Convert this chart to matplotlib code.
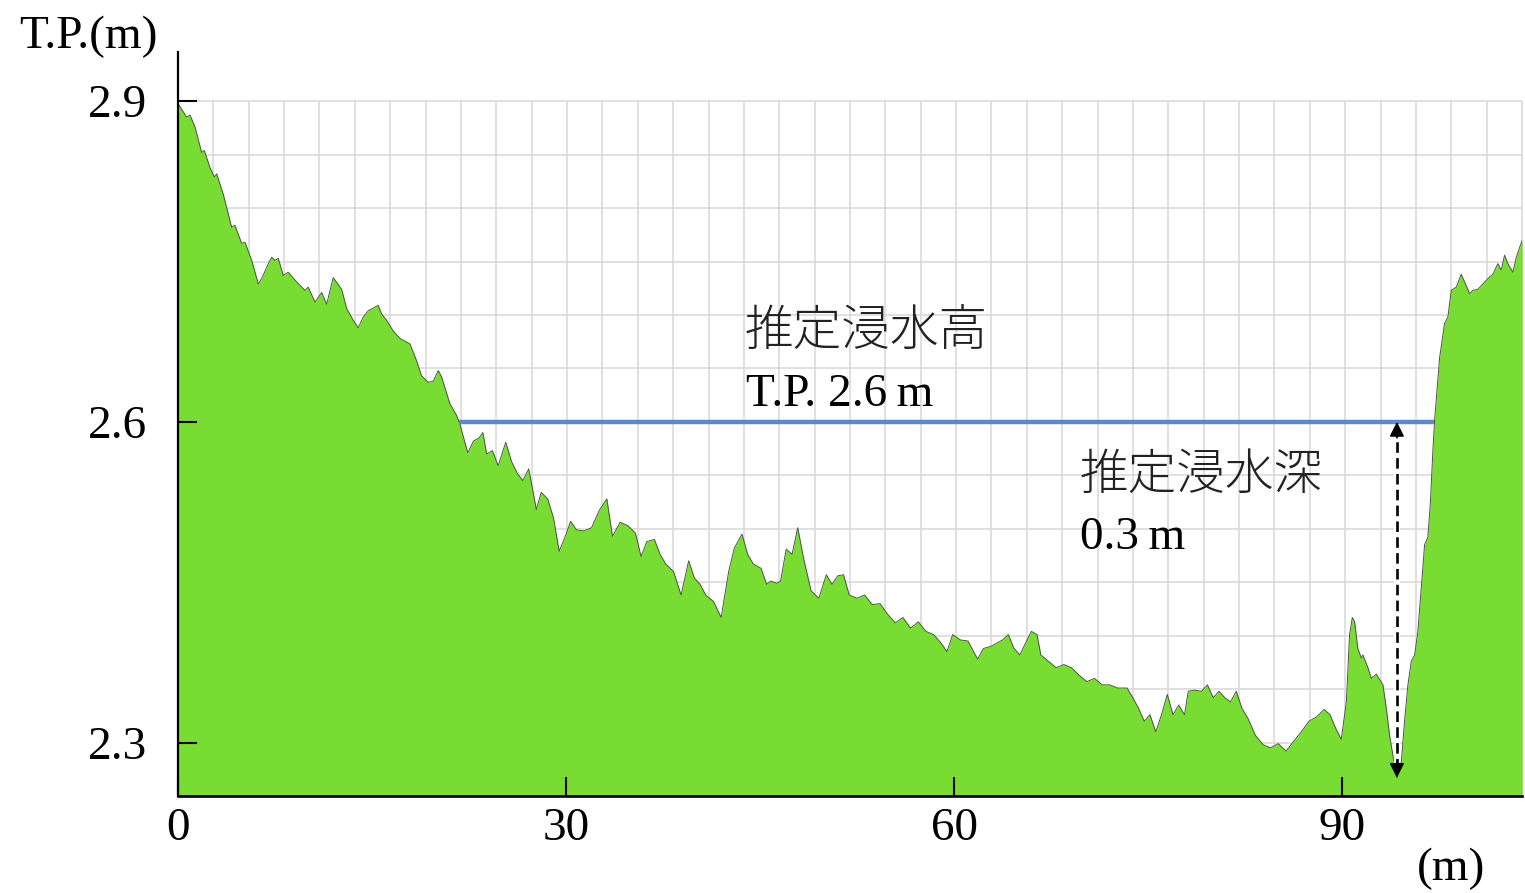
import matplotlib
matplotlib.use("Agg")
import matplotlib.pyplot as plt
import numpy as np

# Ground profile along the survey line: distance (m) and elevation (T.P. m)
distance = [
    0.00, 0.67, 0.93, 1.31, 1.83, 2.03, 2.47, 2.81, 2.99, 3.50, 4.15, 4.40, 4.92, 5.18,
    5.70, 6.21, 6.47, 6.98, 7.24, 7.50, 7.75, 8.14, 8.52, 9.17, 9.81, 10.07, 10.59, 11.11,
    11.49, 12.00, 12.65, 13.04, 13.55, 13.93, 14.32, 14.71, 15.48, 15.74, 16.13, 16.64,
    17.16, 17.93, 18.45, 18.83, 19.34, 19.73, 20.12, 20.38, 21.02, 21.54, 21.79,
    22.40, 22.84, 23.28, 23.57, 23.86, 24.31, 24.75, 25.34, 25.78, 26.22, 26.66, 27.11,
    27.40, 27.70, 28.08, 28.58, 29.03, 29.47, 29.91, 30.35, 30.80, 31.38, 31.97, 32.56,
    33.15, 33.59, 34.18, 34.77, 35.36, 35.80, 36.24, 36.83, 37.27, 37.71, 38.31, 38.89,
    39.48, 39.92, 40.36, 40.80, 41.40, 41.99, 42.57, 43.01, 43.60, 44.04, 44.48, 45.07,
    45.51, 45.83, 46.28, 46.58, 47.02, 47.47, 47.91, 48.35, 48.94, 49.54, 50.12, 50.56,
    51.01, 51.45, 51.89, 52.49, 53.08, 53.67, 54.27, 54.86, 55.45, 56.04, 56.64, 57.23,
    57.82, 58.41, 59.00, 59.44, 59.89, 60.48, 61.07, 61.82, 62.26, 62.85, 63.74, 64.19,
    64.63, 65.08, 65.52, 65.97, 66.41, 66.70, 67.30, 67.89, 68.48, 69.07, 69.66, 70.26,
    70.85, 71.44, 72.03, 72.63, 73.37, 73.81, 74.26, 74.70, 75.14, 75.59, 76.03, 76.48,
    76.92, 77.36, 77.81, 78.10, 78.55, 79.13, 79.58, 80.03, 80.47, 80.92, 81.36, 81.81,
    82.25, 82.70, 83.28, 83.88, 84.47, 85.06, 85.66, 86.24, 86.84, 87.43, 88.02, 88.61,
    89.06, 89.51, 89.93, 90.32, 90.57, 90.78, 90.96, 91.21, 91.48, 91.60, 91.99, 92.25,
    92.64, 92.89, 93.15, 93.41, 93.66, 93.92, 94.23, 94.57, 94.82, 95.08, 95.34, 95.60,
    95.85, 96.11, 96.37, 96.62, 96.81, 97.01, 97.14, 97.53, 97.91, 98.17, 98.43, 98.82,
    99.20, 99.46, 99.85, 100.10, 100.49, 100.87, 101.26, 101.65, 102.03, 102.30, 102.55,
    102.81, 103.19, 103.46, 103.71, 103.92,
]
elevation = [
    2.898, 2.885, 2.887, 2.876, 2.852, 2.854, 2.838, 2.829, 2.832, 2.813, 2.782, 2.784, 2.767, 2.768,
    2.751, 2.729, 2.734, 2.748, 2.754, 2.751, 2.753, 2.737, 2.740, 2.731, 2.723, 2.726, 2.712, 2.721,
    2.710, 2.735, 2.724, 2.706, 2.695, 2.688, 2.698, 2.704, 2.709, 2.701, 2.695, 2.685,
    2.678, 2.673, 2.657, 2.643, 2.637, 2.638, 2.648, 2.642, 2.617, 2.606, 2.598,
    2.571, 2.582, 2.585, 2.590, 2.570, 2.573, 2.559, 2.581, 2.563, 2.552, 2.545, 2.556,
    2.538, 2.518, 2.534, 2.528, 2.510, 2.479, 2.492, 2.507, 2.499, 2.498, 2.501, 2.517,
    2.528, 2.493, 2.506, 2.503, 2.496, 2.474, 2.488, 2.490, 2.476, 2.467, 2.460, 2.438,
    2.470, 2.454, 2.448, 2.438, 2.432, 2.417, 2.460, 2.482, 2.495, 2.476, 2.467, 2.463,
    2.448, 2.451, 2.449, 2.451, 2.481, 2.476, 2.501, 2.473, 2.442, 2.435, 2.457, 2.448,
    2.456, 2.457, 2.438, 2.435, 2.438, 2.429, 2.430, 2.420, 2.412, 2.417, 2.407, 2.413,
    2.404, 2.401, 2.393, 2.385, 2.401, 2.396, 2.395, 2.378, 2.388, 2.390, 2.396, 2.401,
    2.388, 2.382, 2.393, 2.404, 2.401, 2.382, 2.376, 2.370, 2.373, 2.370, 2.363, 2.357,
    2.360, 2.354, 2.354, 2.351, 2.351, 2.342, 2.332, 2.320, 2.326, 2.310, 2.326, 2.345,
    2.326, 2.335, 2.326, 2.348, 2.349, 2.348, 2.354, 2.342, 2.348, 2.342, 2.338, 2.348,
    2.332, 2.323, 2.307, 2.298, 2.295, 2.299, 2.292, 2.301, 2.310, 2.320, 2.324, 2.331,
    2.326, 2.313, 2.303, 2.338, 2.401, 2.417, 2.413, 2.388, 2.379, 2.382, 2.370, 2.360,
    2.364, 2.359, 2.354, 2.332, 2.307, 2.288, 2.267, 2.282, 2.320, 2.354, 2.376, 2.382,
    2.404, 2.445, 2.485, 2.492, 2.523, 2.573, 2.601, 2.660, 2.692, 2.698, 2.723, 2.726,
    2.738, 2.731, 2.720, 2.723, 2.724, 2.729, 2.734, 2.738, 2.748, 2.742, 2.756,
    2.748, 2.740, 2.754, 2.763, 2.770,
]

WATER_LEVEL = 2.6            # estimated inundation height, T.P. (m)
x_ticks = [0, 30, 60, 90]
y_ticks = [2.3, 2.6, 2.9]
height_title = "推定浸水高"
depth_title = "推定浸水深"

X_MIN, X_MAX = 0.0, 103.9
Y_MIN, Y_MAX = 2.25, 2.946
GRID_TOP = 2.9

GROUND_COLOR = "#78DC32"
WATER_COLOR = "#5A8ACB"
GRID_COLOR = "#DADADA"

dist = np.asarray(distance)
elev = np.asarray(elevation)

fig = plt.figure(figsize=(15.25, 8.93), dpi=100)
ax = fig.add_axes([178 / 1525, 1 - 796 / 893, (1522 - 178) / 1525, (796 - 52) / 893])
ax.set_xlim(X_MIN, X_MAX)
ax.set_ylim(Y_MIN, Y_MAX)

# background grid (only up to the top tick)
for gy in np.arange(Y_MIN + 0.05, GRID_TOP + 0.001, 0.05):
    ax.hlines(gy, X_MIN, X_MAX, color=GRID_COLOR, lw=1.2, zorder=0)
for gx in np.linspace(X_MIN, X_MAX, 39)[1:]:
    ax.vlines(gx, Y_MIN, GRID_TOP, color=GRID_COLOR, lw=1.2, zorder=0, clip_on=False)

# ground section
ax.fill_between(dist, Y_MIN, elev, color=GROUND_COLOR, lw=0, zorder=2)
ax.plot(dist, elev, color="#505050", lw=0.7, zorder=3)

# water surface between the two points where the ground crosses it
below = np.where(elev < WATER_LEVEL)[0]
i0, i1 = below[0], below[-1]
x_left = np.interp(WATER_LEVEL, [elev[i0], elev[i0 - 1]], [dist[i0], dist[i0 - 1]])
x_right = np.interp(WATER_LEVEL, [elev[i1], elev[i1 + 1]], [dist[i1], dist[i1 + 1]])
ax.hlines(WATER_LEVEL, x_left, x_right, color=WATER_COLOR, lw=3.2, zorder=4)

# inundation depth at the lowest point of the channel
k = int(np.argmin(elev))
x_depth, z_bottom = dist[k], elev[k]
depth = WATER_LEVEL - z_bottom
ax.plot([x_depth, x_depth], [z_bottom + 0.006, WATER_LEVEL - 0.006], color="white",
        lw=4.5, solid_capstyle="butt", zorder=5)
ax.plot([x_depth, x_depth], [z_bottom + 0.008, WATER_LEVEL - 0.008], color="black",
        lw=1.9, ls=(0, (4, 2)), zorder=6)
for tip, tail in ((WATER_LEVEL, WATER_LEVEL - 0.015), (z_bottom, z_bottom + 0.015)):
    ax.annotate("", xy=(x_depth, tip), xytext=(x_depth, tail),
                arrowprops=dict(arrowstyle="-|>", color="black", lw=1.2,
                                mutation_scale=22, shrinkA=0, shrinkB=0),
                zorder=7)

jp_font = ["Noto Sans CJK JP", "DejaVu Sans"]
serif_font = ["Liberation Serif", "DejaVu Serif"]

ax.text(43.8, 2.671, height_title, family=jp_font, fontsize=35, fontweight="light",
        color="#222222", ha="left", va="baseline", zorder=8)
ax.text(43.9, 2.615, f"T.P. {WATER_LEVEL:.1f}\u2009m", family=serif_font, fontsize=34,
        color="black", ha="left", va="baseline", zorder=8)
ax.text(69.7, 2.537, depth_title, family=jp_font, fontsize=35, fontweight="light",
        color="#222222", ha="left", va="baseline", zorder=8)
ax.text(69.7, 2.481, f"{depth:.1f}\u2009m", family=serif_font, fontsize=34,
        color="black", ha="left", va="baseline", zorder=8)

# axes styling
for side in ("top", "right"):
    ax.spines[side].set_visible(False)
ax.spines["left"].set_linewidth(1.6)
ax.spines["bottom"].set_linewidth(1.9)
ax.spines["left"].set_zorder(9)
ax.spines["bottom"].set_zorder(9)
ax.xaxis.set_zorder(10)
ax.yaxis.set_zorder(10)

ax.set_xticks(x_ticks)
ax.set_xticklabels([str(v) for v in x_ticks])
ax.set_yticks(y_ticks)
ax.set_yticklabels([f"{v:.1f}" for v in y_ticks])
ax.tick_params(axis="both", direction="in", length=14, width=1.5, color="black",
               labelsize=34)
ax.tick_params(axis="y", pad=22)
ax.tick_params(axis="x", pad=8)
for lab in ax.get_xticklabels() + ax.get_yticklabels():
    lab.set_family(serif_font)

fig.text(88 / 1525, 1 - 48 / 893, "T.P.(m)", family=serif_font, fontsize=34,
         ha="center", va="baseline")
fig.text(1451 / 1525, 1 - 880 / 893, "(m)", family=serif_font, fontsize=34,
         ha="center", va="baseline")

fig.savefig("out.png", dpi=100, facecolor="white")
